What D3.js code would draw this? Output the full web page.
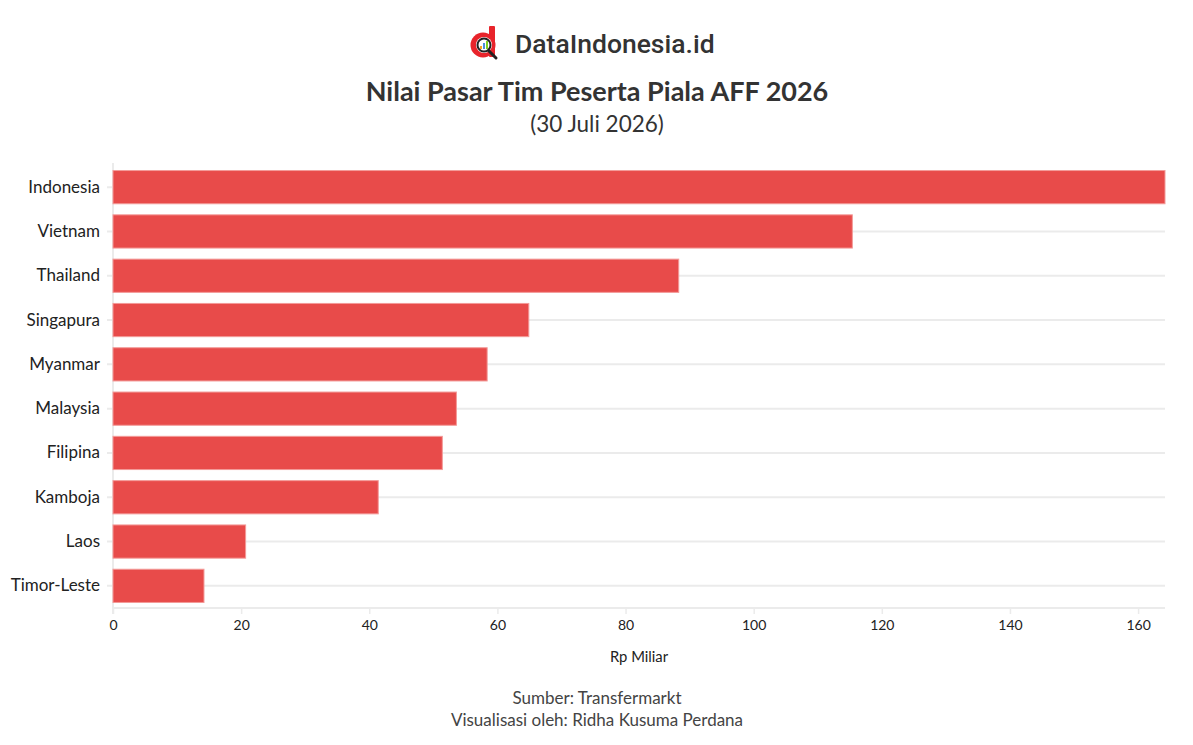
<!DOCTYPE html>
<html>
<head>
<meta charset="utf-8">
<style>
  body { margin: 0; background: #fff; }
  text { font-family: "Source Sans Pro", Lato, "Noto Sans", sans-serif; }
</style>
</head>
<body>
<svg width="1193" height="745"></svg>
<script src="https://d3js.org/d3.v7.min.js"></script>
<script>

var countries = ["Indonesia", "Vietnam", "Thailand", "Singapura", "Myanmar",
                 "Malaysia", "Filipina", "Kamboja", "Laos", "Timor-Leste"];
var values = [164.2, 115.4, 88.3, 64.9, 58.4, 53.6, 51.4, 41.4, 20.7, 14.2];
var xTicks = [0, 20, 40, 60, 80, 100, 120, 140, 160];

var svg = d3.select("svg"),
    width = +svg.attr("width"),
    height = +svg.attr("height");

var plotLeft = 113, plotRight = 1165, plotTop = 165, plotBottom = 608;

var x = d3.scaleLinear().domain([0, d3.max(values)]).range([plotLeft, plotRight]);
var y = d3.scaleBand().domain(countries).range([plotTop, plotBottom])
    .paddingInner(0.25).paddingOuter(0.125);

// logo
var logo = svg.append("g").attr("transform", "translate(470,26)");
logo.append("rect").attr("x", 19).attr("y", 0).attr("width", 6).attr("height", 31)
    .attr("rx", 1).style("fill", "#e8242b");
logo.append("circle").attr("cx", 13).attr("cy", 19).attr("r", 12.5).style("fill", "#e8242b");
logo.append("circle").attr("cx", 14).attr("cy", 19).attr("r", 8).style("fill", "#fff");
logo.append("line").attr("x1", 18).attr("y1", 24).attr("x2", 26).attr("y2", 32)
    .style("stroke", "#222").style("stroke-width", 3).style("stroke-linecap", "round");
logo.append("circle").attr("cx", 14).attr("cy", 19).attr("r", 6.5)
    .style("fill", "#fff").style("stroke", "#222").style("stroke-width", 2);
logo.append("path").attr("d", "M10,23 L10,20 L12,20 L12,23 Z").style("fill", "#f5a623");
logo.append("path").attr("d", "M13,23 L13,17 L15,17 L15,23 Z").style("fill", "#4a90d9");
logo.append("path").attr("d", "M16,23 L16,15 L18,15 L18,23 Z").style("fill", "#7ed321");

svg.append("text").attr("x", 515).attr("y", 53)
    .style("font-family", "Roboto, sans-serif").style("font-weight", "500")
    .style("font-size", "26.5px").style("fill", "#333")
    .text("DataIndonesia.id");

// titles
svg.append("text").attr("x", 597).attr("y", 101).attr("text-anchor", "middle")
    .style("font-weight", "bold").style("font-size", "27px").style("fill", "#333")
    .text("Nilai Pasar Tim Peserta Piala AFF 2026");
svg.append("text").attr("x", 597).attr("y", 132).attr("text-anchor", "middle")
    .style("font-size", "22.5px").style("fill", "#333")
    .text("(30 Juli 2026)");

// grid lines
svg.append("g").selectAll("line").data(countries).enter().append("line")
    .attr("x1", plotLeft - 6).attr("x2", plotRight)
    .attr("y1", function(d){ return y(d) + y.bandwidth()/2; })
    .attr("y2", function(d){ return y(d) + y.bandwidth()/2; })
    .style("stroke", "#ebebeb").style("stroke-width", 2);

// x axis line and zero line
svg.append("line").attr("x1", plotLeft).attr("x2", plotRight)
    .attr("y1", plotBottom).attr("y2", plotBottom)
    .style("stroke", "#ebebeb").style("stroke-width", 2);
svg.append("line").attr("x1", plotLeft).attr("x2", plotLeft)
    .attr("y1", plotTop - 2).attr("y2", plotBottom + 6)
    .style("stroke", "#ebebeb").style("stroke-width", 2);

// bars
svg.append("g").selectAll("rect").data(values).enter().append("rect")
    .attr("x", x(0))
    .attr("y", function(d, i){ return y(countries[i]); })
    .attr("width", function(d){ return x(d) - x(0); })
    .attr("height", y.bandwidth())
    .style("fill", "#e84b4a")
    .style("stroke", "#f39a98").style("stroke-width", 1);

// x axis
var xAxis = svg.append("g").attr("transform", "translate(0," + plotBottom + ")")
    .call(d3.axisBottom(x).tickValues(xTicks).tickSize(6).tickPadding(6));
xAxis.select(".domain").remove();
xAxis.selectAll(".tick line").style("stroke", "#ebebeb").style("stroke-width", 1.5);
xAxis.selectAll(".tick text").style("font-family", "\"Source Sans Pro\", Lato, sans-serif")
    .style("font-size", "14px").style("fill", "#222");

// y axis labels
var yAxis = svg.append("g").attr("transform", "translate(" + plotLeft + ",0)")
    .call(d3.axisLeft(y).tickSize(0).tickPadding(13));
yAxis.select(".domain").remove();
yAxis.selectAll(".tick text").style("font-family", "\"Source Sans Pro\", Lato, sans-serif")
    .style("font-size", "17px").style("fill", "#222");

svg.append("text").attr("x", (plotLeft + plotRight)/2).attr("y", 662).attr("text-anchor", "middle")
    .style("font-size", "14.8px").style("fill", "#222").text("Rp Miliar");

// footer
svg.append("text").attr("x", 597).attr("y", 704).attr("text-anchor", "middle")
    .style("font-size", "17px").style("fill", "#444").text("Sumber: Transfermarkt");
svg.append("text").attr("x", 597).attr("y", 726).attr("text-anchor", "middle")
    .style("font-size", "17px").style("fill", "#444").text("Visualisasi oleh: Ridha Kusuma Perdana");

</script>
</body>
</html>
